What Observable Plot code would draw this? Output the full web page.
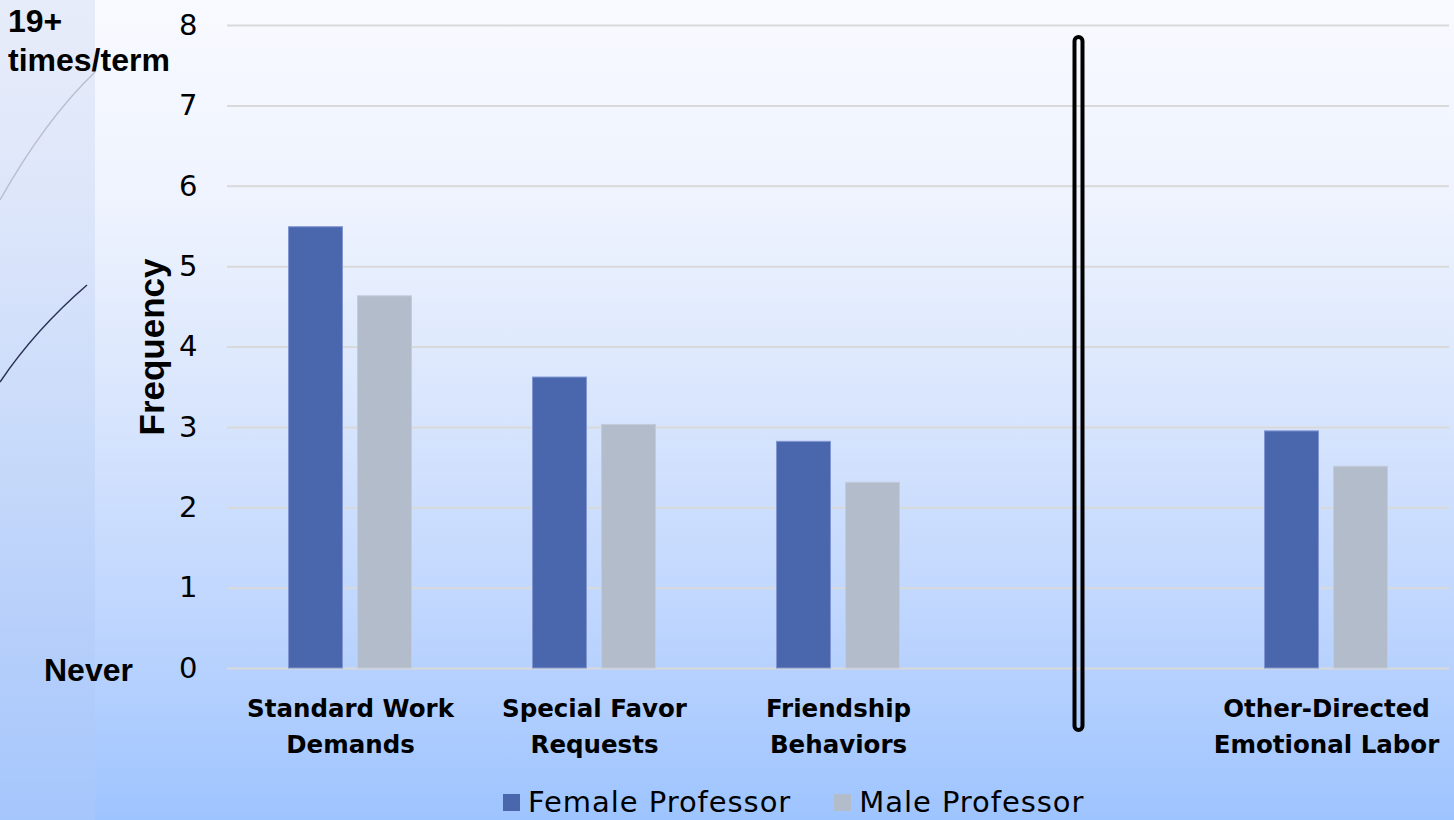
<!DOCTYPE html>
<html><head><meta charset="utf-8">
<script src="https://cdn.jsdelivr.net/npm/d3@7"></script>
<script src="https://cdn.jsdelivr.net/npm/@observablehq/plot@0.6"></script>
<style>
html,body{margin:0;padding:0;width:1454px;height:820px;overflow:hidden}
body{position:relative;background:linear-gradient(to bottom,#f8faff 0%,#eef3fe 25%,#d8e5fd 50%,#bfd6fe 75%,#9ec4ff 100%);font-family:"Liberation Sans",Arial,sans-serif;color:#000}
#strip{position:absolute;left:0;top:0;width:95px;height:820px;background:linear-gradient(to bottom,#e7ecf9 0%,#dde6fa 25%,#cbdcfa 50%,#b8d0fa 75%,#a5c6fc 100%)}
#deco{position:absolute;left:0;top:0}
#chart{position:absolute;left:0;top:0}
.side{position:absolute;font-family:"Liberation Sans",Arial,sans-serif;font-weight:bold;font-size:32px;line-height:39px;white-space:nowrap}
#legend{position:absolute;left:503px;top:785px;font-family:"DejaVu Sans",sans-serif;font-size:29px;letter-spacing:0.95px;line-height:34px;white-space:nowrap;display:flex;align-items:center}
#legend .sw{display:inline-block;width:17px;height:17px;margin-right:8px}
#legend .item{display:flex;align-items:center;margin-right:43px}
</style></head>
<body>
<div id="strip"></div>
<svg id="deco" width="100" height="820">
  <path d="M95,72 Q45,120 0,200" fill="none" stroke="#b9bfd0" stroke-width="1.5"/>
  <path d="M87,285 Q35,330 0,382" fill="none" stroke="#2a2f55" stroke-width="1.5"/>
</svg>
<div id="chart"></div>
<div class="side" style="left:8px;top:2px">19+<br>times/term</div>
<div class="side" style="left:44px;top:651px">Never</div>
<div id="legend"></div>
<script>
const categories = ["Standard Work\nDemands", "Special Favor\nRequests", "Friendship\nBehaviors", "", "Other-Directed\nEmotional Labor"];
const series = ["Female Professor", "Male Professor"];
const femaleValues = [5.49, 3.62, 2.82, null, 2.95];
const maleValues = [4.63, 3.03, 2.31, null, 2.51];
const colors = ["#4a67ae", "#b3bccb"];
const yTicks = [0, 1, 2, 3, 4, 5, 6, 7, 8];
const separatorCategory = "";
const separatorExtent = [-0.77, 7.85];

const female = categories.map((c, i) => ({category: c, value: femaleValues[i]})).filter(d => d.value != null);
const male = categories.map((c, i) => ({category: c, value: maleValues[i]})).filter(d => d.value != null);

const chart = Plot.plot({
  width: 1454, height: 780,
  marginLeft: 227, marginRight: 5, marginTop: 25, marginBottom: 112,
  style: {background: "transparent", overflow: "visible", color: "#000"},
  x: {domain: categories, paddingInner: 0.779, paddingOuter: 0.3895, axis: null},
  y: {domain: [0, 8], axis: null},
  marks: [
    Plot.ruleY(yTicks, {stroke: "#d9d9d9", strokeWidth: 2}),
    Plot.barY(female, {x: "category", y: "value", fill: colors[0], stroke: "#7f96d2", strokeWidth: 1, dx: -34.5}),
    Plot.barY(male, {x: "category", y: "value", fill: colors[1], stroke: "#c3cad8", strokeWidth: 1, dx: 34.5}),
    Plot.axisY({ticks: yTicks, tickSize: 0, tickPadding: 30, fontSize: 29, fontFamily: "DejaVu Sans", label: null}),
    Plot.axisX({tickSize: 0, tickPadding: 22, fontSize: 24.5, fontWeight: "bold", fontFamily: "DejaVu Sans", lineHeight: 1.5, label: null}),
    Plot.text(["Frequency"], {text: d => d, frameAnchor: "left", textAnchor: "middle", dx: -75, rotate: -90, fontSize: 35, fontWeight: "bold", fontFamily: "Liberation Sans", fill: "#000"}),
    Plot.barY([{category: separatorCategory, y1: separatorExtent[0], y2: separatorExtent[1]}],
      {x: "category", y1: "y1", y2: "y2", fill: "none", stroke: "#000", strokeWidth: 4, rx: 4, insetLeft: 23, insetRight: 23, dx: -3.5})
  ]
});
document.getElementById("chart").appendChild(chart);

const legend = document.getElementById("legend");
series.forEach((s, i) => {
  const item = document.createElement("div");
  item.className = "item";
  const sw = document.createElement("span");
  sw.className = "sw";
  sw.style.background = colors[i];
  const t = document.createElement("span");
  t.textContent = s;
  item.appendChild(sw); item.appendChild(t);
  legend.appendChild(item);
});
</script>
</body></html>
